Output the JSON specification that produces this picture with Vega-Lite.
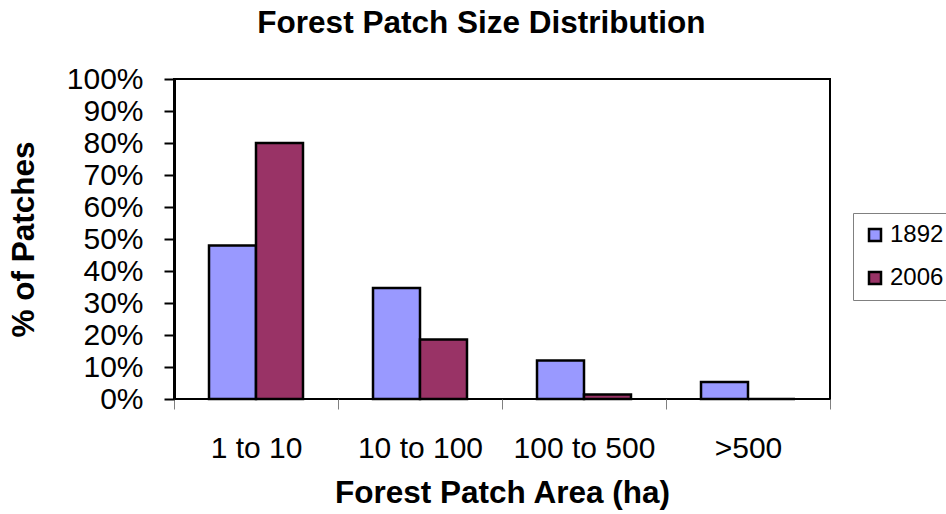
{
  "$schema": "https://vega.github.io/schema/vega-lite/v6.json",
  "width": 656,
  "height": 320,
  "autosize": {"type": "none"},
  "padding": {"left": 174, "top": 79, "right": 116, "bottom": 115},
  "background": "white",
  "title": {
    "text": "Forest Patch Size Distribution",
    "font": "Liberation Sans",
    "fontSize": 31.5,
    "fontWeight": "bold",
    "color": "black",
    "frame": "bounds",
    "anchor": "middle",
    "offset": 25
  },
  "data": {
    "values": [
      {"area": "1 to 10", "year": "1892", "pct": 0.48},
      {"area": "1 to 10", "year": "2006", "pct": 0.80},
      {"area": "10 to 100", "year": "1892", "pct": 0.347},
      {"area": "10 to 100", "year": "2006", "pct": 0.186},
      {"area": "100 to 500", "year": "1892", "pct": 0.12},
      {"area": "100 to 500", "year": "2006", "pct": 0.014},
      {"area": ">500", "year": "1892", "pct": 0.053},
      {"area": ">500", "year": "2006", "pct": 0.0}
    ]
  },
  "mark": {"type": "bar", "stroke": "black", "strokeWidth": 2.5},
  "encoding": {
    "x": {
      "field": "area",
      "type": "nominal",
      "sort": ["1 to 10", "10 to 100", "100 to 500", ">500"],
      "scale": {"paddingInner": 0, "paddingOuter": 0},
      "axis": {
        "title": "Forest Patch Area (ha)",
        "titleFont": "Liberation Sans",
        "titleFontSize": 31.5,
        "titleFontWeight": "bold",
        "titleColor": "black",
        "titlePadding": 14,
        "labelFont": "Liberation Sans",
        "labelFontSize": 30,
        "labelColor": "black",
        "labelAngle": 0,
        "labelPadding": 24,
        "domain": false,
        "tickColor": "#808080",
        "tickWidth": 1,
        "tickSize": 10,
        "tickBand": "extent"
      }
    },
    "xOffset": {
      "field": "year",
      "type": "nominal",
      "scale": {"paddingInner": 0, "paddingOuter": 0.745}
    },
    "y": {
      "field": "pct",
      "type": "quantitative",
      "scale": {"domain": [0, 1], "nice": false},
      "axis": {
        "title": "% of Patches",
        "titleFont": "Liberation Sans",
        "titleFontSize": 31.5,
        "titleFontWeight": "bold",
        "titleColor": "black",
        "titlePadding": 26,
        "format": ".0%",
        "values": [0, 0.1, 0.2, 0.3, 0.4, 0.5, 0.6, 0.7, 0.8, 0.9, 1.0],
        "labelFont": "Liberation Sans",
        "labelFontSize": 30,
        "labelColor": "black",
        "labelPadding": 21,
        "labelBaseline": "middle",
        "labelOverlap": false,
        "grid": false,
        "domainColor": "black",
        "domainWidth": 3,
        "tickColor": "black",
        "tickWidth": 2,
        "tickSize": 10
      }
    },
    "color": {
      "field": "year",
      "type": "nominal",
      "scale": {"domain": ["1892", "2006"], "range": ["#9999FF", "#993366"]},
      "legend": {
        "title": null,
        "orient": "none",
        "legendX": 679,
        "legendY": 134,
        "strokeColor": "#808080",
        "fillColor": "white",
        "padding": 10,
        "symbolType": "square",
        "symbolSize": 144,
        "symbolStrokeColor": "black",
        "symbolStrokeWidth": 2.5,
        "symbolOpacity": 1,
        "labelFont": "Liberation Sans",
        "labelFontSize": 24,
        "labelColor": "black",
        "labelOffset": 3,
        "rowPadding": 19
      }
    }
  },
  "config": {
    "view": {"stroke": "black", "strokeWidth": 2}
  }
}
